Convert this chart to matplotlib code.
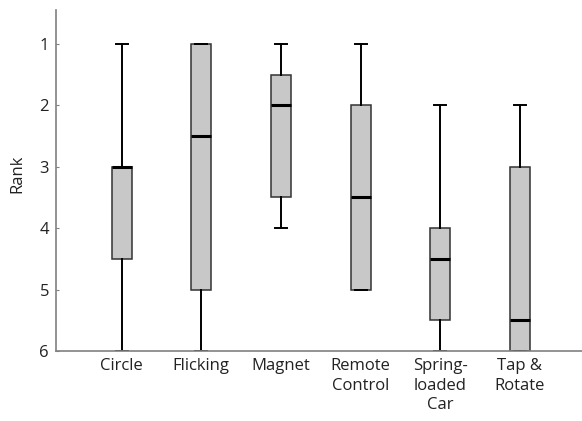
import matplotlib
matplotlib.use("Agg")
import matplotlib.pyplot as plt

categories = ["Circle", "Flicking", "Magnet", "Remote\nControl", "Spring-\nloaded\nCar", "Tap &\nRotate"]
whislo = [6, 6, 4, 5, 6, 6]
q1 = [4.5, 5, 3.5, 5, 5.5, 6]
med = [3, 2.5, 2, 3.5, 4.5, 5.5]
q3 = [3, 1, 1.5, 2, 4, 3]
whishi = [1, 1, 1, 1, 2, 2]
yticks = [1, 2, 3, 4, 5, 6]

plt.rcParams['font.family'] = ['Open Sans', 'DejaVu Sans']

fig = plt.figure(figsize=(5.82, 4.21), dpi=100)
ax = fig.add_axes([56/582, 1-351/421, 1-56/582, 341/421])

stats = []
for i, c in enumerate(categories):
    stats.append(dict(label=c, whislo=whislo[i], q1=q1[i], med=med[i], q3=q3[i], whishi=whishi[i], fliers=[]))

ax.bxp(stats, positions=range(1, 7), widths=0.25, patch_artist=True, showfliers=False,
       boxprops=dict(facecolor='#c8c8c8', edgecolor='#333333', linewidth=1.1),
       medianprops=dict(color='black', linewidth=2.2),
       whiskerprops=dict(color='black', linewidth=1.4),
       capprops=dict(color='black', linewidth=1.4), capwidths=0.15)

ax.set_xlim(0.175, 6.78)
ax.set_ylim(6, 0.45)
ax.set_yticks(yticks)
ax.set_yticklabels([str(v) for v in yticks])
ax.set_ylabel("Rank", fontsize=12, color='#222222')
ax.yaxis.set_label_coords(-0.058, 0.52)
for s in ['top', 'right']:
    ax.spines[s].set_visible(False)
for s in ['left', 'bottom']:
    ax.spines[s].set_color('#808080')
    ax.spines[s].set_linewidth(1.2)
ax.tick_params(axis='y', direction='in', length=2, color='#808080', labelsize=12, labelcolor='#222222', pad=5)
ax.tick_params(axis='x', length=0, labelsize=12, labelcolor='#222222', pad=5)
for t in ax.get_xticklabels():
    t.set_linespacing(1.3)

fig.savefig("out.png", dpi=100)
